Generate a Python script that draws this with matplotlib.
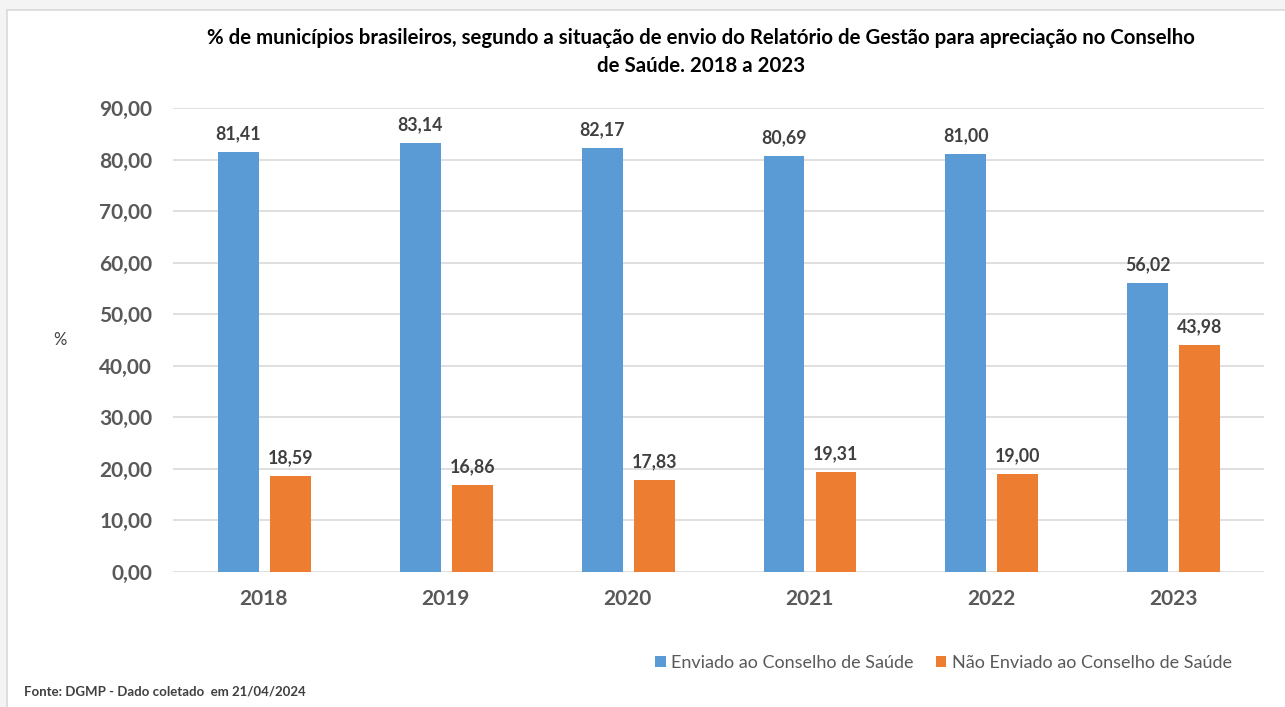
import matplotlib.pyplot as plt
import numpy as np
from matplotlib.patches import Rectangle

anos = ['2018', '2019', '2020', '2021', '2022', '2023']
enviado = [81.41, 83.14, 82.17, 80.69, 81.00, 56.02]
nao_enviado = [18.59, 16.86, 17.83, 19.31, 19.00, 43.98]
serie_nomes = ['Enviado ao Conselho de Saúde', 'Não Enviado ao Conselho de Saúde']
titulo = ('% de municípios brasileiros, segundo a situação de envio do Relatório de Gestão para apreciação no Conselho\n'
          'de Saúde. 2018 a 2023')
fonte = 'Fonte: DGMP - Dado coletado  em 21/04/2024'

plt.rcParams['font.family'] = ['Lato', 'DejaVu Sans']

fig = plt.figure(figsize=(12.85, 7.07), dpi=100, facecolor='#f4f4f4')
fig.patches.append(Rectangle((7/1285, -0.01), 1.0, 1 - 10/707 + 0.01, transform=fig.transFigure,
                             facecolor='white', edgecolor='#d9d9d9', lw=1.2, zorder=-10))

ax = fig.add_axes([173/1285, 1 - 572/707, 1091/1285, (572-108)/707])
ax.set_facecolor('none')

x = np.arange(len(anos))
w = 0.225
b1 = ax.bar(x - 0.14, enviado, w, color='#5B9BD5', label=serie_nomes[0], zorder=3)
b2 = ax.bar(x + 0.146, nao_enviado, w, color='#ED7D31', label=serie_nomes[1], zorder=3)

for bars in (b1, b2):
    for r in bars:
        v = r.get_height()
        ax.text(r.get_x() + r.get_width()/2, v + 1.9, f'{v:.2f}'.replace('.', ','),
                ha='center', va='bottom', fontsize=12.8, fontweight='bold', color='#404040')

ax.set_xlim(-0.5, len(anos) - 0.5)
ax.set_ylim(0, 90)
ax.set_yticks(np.arange(0, 91, 10))
ax.set_yticklabels([f'{t:.2f}'.replace('.', ',') for t in np.arange(0, 91, 10)])
ax.set_xticks(x)
ax.set_xticklabels(anos)
ax.tick_params(axis='both', length=0, labelsize=15, labelcolor='#595959')
ax.tick_params(axis='y', pad=15)
ax.tick_params(axis='x', pad=12)
for lab in ax.get_xticklabels() + ax.get_yticklabels():
    lab.set_fontweight('bold')
ax.grid(axis='y', color='#d9d9d9', lw=1.2, zorder=0)
for s in ax.spines.values():
    s.set_visible(False)

fig.text(60/1285, 1 - 340/707, '%', fontsize=12, color='#404040', ha='center', va='center')
fig.text(701/1285, 1 - 52/707, titulo, fontsize=14.7, fontweight='bold', color='black',
         ha='center', va='center', linespacing=1.5)

ax.legend(loc='center right', bbox_to_anchor=(1248/1285, 1 - 663/707), bbox_transform=fig.transFigure,
          ncol=2, frameon=False, fontsize=13, handlelength=0.6, handleheight=0.6,
          handletextpad=0.3, columnspacing=1.2, labelcolor='#595959')

fig.text(24/1285, 1 - 692/707, fonte, fontsize=9.5, fontweight='bold', color='#404040',
         ha='left', va='center')

fig.savefig('out.png', dpi=100, facecolor=fig.get_facecolor())
